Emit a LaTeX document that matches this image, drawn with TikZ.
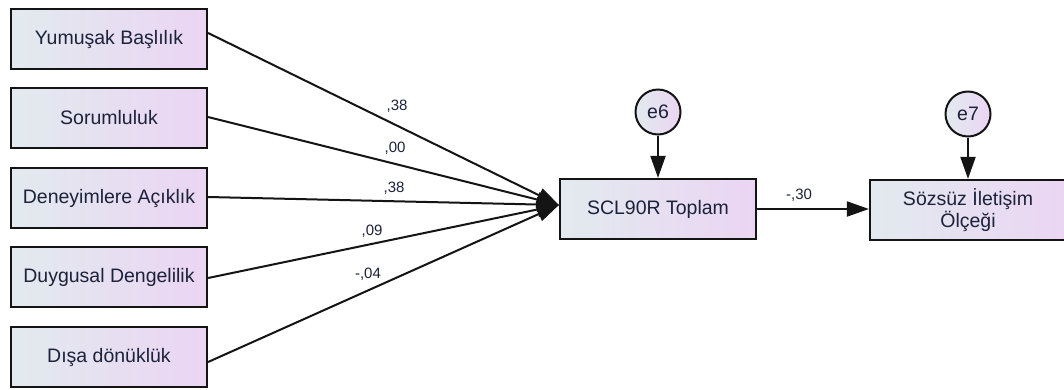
\documentclass[tikz,border=0pt]{standalone}
\usepackage{fontspec}
\setmainfont{Liberation Sans}
\usetikzlibrary{arrows.meta}
\definecolor{lc}{RGB}{226,234,239}
\definecolor{rc}{RGB}{235,213,243}
\definecolor{txt}{RGB}{28,34,58}
\definecolor{ln}{RGB}{20,20,20}
\begin{document}
\begin{tikzpicture}[x=1pt,y=-1pt,
 var/.style={draw=ln, line width=2.2pt, left color=lc, right color=rc, minimum width=196pt, minimum height=60pt, inner sep=0pt, font=\fontsize{19.5}{22}\selectfont, text=txt, align=center},
 err/.style={circle, draw=ln, line width=2pt, left color=lc, right color=rc, minimum size=45pt, inner sep=0pt, font=\fontsize{19.5}{22}\selectfont, text=txt},
 arr/.style={draw=ln, line width=2pt, -{Triangle[length=22pt,width=15pt]}},
 coef/.style={font=\fontsize{15}{17}\selectfont, text=txt, inner sep=0pt}]
\useasboundingbox (0,0) rectangle (1064,389);
\fill[white] (0,0) rectangle (1064,389);
\node[var] (b1) at (109,39) {Yumuşak Başlılık};
\node[var] (b2) at (109,118) {Sorumluluk};
\node[var] (b3) at (109,198) {Deneyimlere Açıklık};
\node[var] (b4) at (109,277) {Duygusal Dengelilik};
\node[var] (b5) at (109,357) {Dışa dönüklük};
\node[var] (c) at (658,209) {SCL90R Toplam};
\node[var] (s) at (968,210) {Sözsüz İletişim\\Ölçeği};
\node[err] (e6) at (658,112) {e6};
\node[err] (e7) at (968,114) {e7};
\coordinate (tip) at ([yshift=4pt]c.west);
\draw[arr] ([yshift=6pt]b1.east) -- (tip);
\draw[arr] ([yshift=1pt]b2.east) -- (tip);
\draw[arr] ([yshift=1pt]b3.east) -- (tip);
\draw[arr] ([yshift=-1pt]b4.east) -- (tip);
\draw[arr] ([yshift=-5pt]b5.east) -- (tip);
\draw[arr] (e6) -- (c);
\draw[arr] (e7) -- (s);
\draw[arr] (c.east) -- (s.west |- c.east);
\node[coef] (l1) at (397,106) {,38};
\node[coef] (l2) at (395,148) {,00};
\node[coef] (l3) at (394,188) {,38};
\node[coef] (l4) at (372,231) {,09};
\node[coef] (l5) at (368,274) {-,04};
\node[coef] (l6) at (799,195) {-,30};
\end{tikzpicture}
\end{document}
